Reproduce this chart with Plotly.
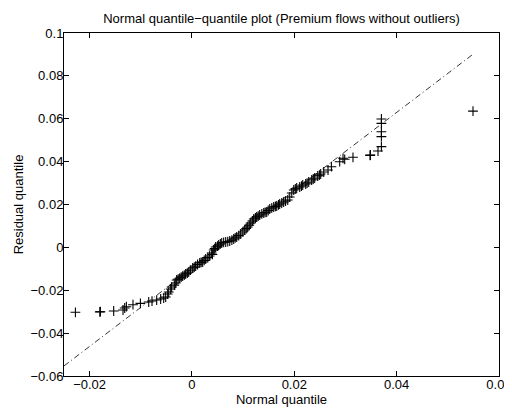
import plotly.graph_objects as go

# Normal quantile (x) vs residual quantile (y)
x_q = [-0.02277, -0.01800, -0.01789, -0.01529, -0.01347, -0.01314, -0.01281, -0.01152, -0.01007,
       -0.00845, -0.00780, -0.00689, -0.00611, -0.00552, -0.00513, -0.00474, -0.00454, -0.00415,
       -0.00396, -0.00345, -0.00317, -0.00298, -0.00270, -0.00239, -0.00210, -0.00181, -0.00150,
       -0.00122, -0.00090, -0.00063, -0.00030, 0.00015, 0.00045, 0.00073, 0.00110, 0.00152,
       0.00180, 0.00210, 0.00240, 0.00269, 0.00310, 0.00347, 0.00386, 0.00400, 0.00425, 0.00445,
       0.00464, 0.00500, 0.00523, 0.00555, 0.00582, 0.00620, 0.00660, 0.00700, 0.00738, 0.00780,
       0.00816, 0.00845, 0.00875, 0.00915, 0.00953, 0.00995, 0.01031, 0.01060, 0.01090, 0.01120,
       0.01149, 0.01180, 0.01207, 0.01240, 0.01266, 0.01295, 0.01324, 0.01365, 0.01403, 0.01430,
       0.01461, 0.01490, 0.01520, 0.01560, 0.01598, 0.01630, 0.01657, 0.01690, 0.01715, 0.01755,
       0.01793, 0.01830, 0.01872, 0.01911, 0.01950, 0.01989, 0.02020, 0.02047, 0.02106, 0.02140,
       0.02165, 0.02223, 0.02250, 0.02282, 0.02340, 0.02370, 0.02399, 0.02458, 0.02490, 0.02516,
       0.02575, 0.02659, 0.02725, 0.02887, 0.02952, 0.02985, 0.03147, 0.03480, 0.03487, 0.03636,
       0.03702, 0.03702, 0.03702, 0.03702, 0.03702, 0.05492]
y_q = [-0.03029, -0.03010, -0.03001, -0.02969, -0.02922, -0.02829, -0.02768, -0.02675, -0.02610,
       -0.02549, -0.02503, -0.02456, -0.02409, -0.02363, -0.02316, -0.02176, -0.02083, -0.01943,
       -0.01850, -0.01760, -0.01663, -0.01523, -0.01480, -0.01430, -0.01390, -0.01337, -0.01290,
       -0.01243, -0.01200, -0.01150, -0.01060, -0.00963, -0.00920, -0.00870, -0.00800, -0.00730,
       -0.00700, -0.00683, -0.00610, -0.00543, -0.00480, -0.00403, -0.00263, -0.00330, -0.00123, -0.00060,
       0.00017, 0.00060, 0.00110, 0.00160, 0.00204, 0.00230, 0.00250, 0.00270, 0.00297, 0.00340,
       0.00390, 0.00440, 0.00484, 0.00550, 0.00624, 0.00720, 0.00810, 0.00880, 0.00950, 0.01040,
       0.01137, 0.01230, 0.01324, 0.01370, 0.01417, 0.01460, 0.01510, 0.01560, 0.01604, 0.01630,
       0.01650, 0.01720, 0.01790, 0.01840, 0.01884, 0.01910, 0.01930, 0.01980, 0.02024, 0.02070,
       0.02117, 0.02160, 0.02210, 0.02350, 0.02537, 0.02677, 0.02730, 0.02770, 0.02817, 0.02860,
       0.02910, 0.02957, 0.03000, 0.03050, 0.03144, 0.03190, 0.03237, 0.03330, 0.03370, 0.03423,
       0.03516, 0.03609, 0.03763, 0.03996, 0.04155, 0.04108, 0.04201, 0.04290, 0.04308, 0.04495,
       0.04699, 0.05166, 0.05396, 0.05784, 0.05988, 0.06356]

# Reference line (through the quartiles), end points
line_x = [-0.025, 0.0547]
line_y = [-0.0553, 0.0897]

x_ticks = [-0.02, 0, 0.02, 0.04, 0.06]
y_ticks = [-0.06, -0.04, -0.02, 0, 0.02, 0.04, 0.06, 0.08, 0.1]

FONT = "Liberation Sans, Arial, Helvetica, sans-serif"
FS = 13

fig = go.Figure()
fig.add_trace(go.Scatter(
    x=x_q, y=y_q, mode="markers",
    marker=dict(symbol="cross-thin", size=7, color="black",
                line=dict(color="black", width=1.1)),
    showlegend=False, hoverinfo="skip"))
fig.add_trace(go.Scatter(
    x=line_x, y=line_y, mode="lines",
    line=dict(color="black", width=0.8, dash="6px,3px,1px,3px"),
    showlegend=False, hoverinfo="skip"))

axis_common = dict(
    showline=True, linecolor="black", linewidth=1, mirror="allticks",
    ticks="inside", ticklen=5, tickcolor="black", tickwidth=1,
    showgrid=False, zeroline=False, automargin=False,
    ticklabeloverflow="allow",
    tickfont=dict(family=FONT, size=FS, color="black"),
)

# The page body has an 8px margin, so the figure is 8px smaller and margins shifted.
fig.update_layout(
    template="none",
    width=504, height=400,
    paper_bgcolor="white", plot_bgcolor="white",
    margin=dict(l=56, r=13, t=25, b=32, pad=0),
    font=dict(family=FONT, size=FS, color="black"),
    title=dict(text="Normal quantile\u2212quantile plot (Premium flows without outliers)",
               x=0.5427, xanchor="center", y=0.975, yanchor="middle",
               font=dict(family=FONT, size=FS, color="black")),
    xaxis=dict(range=[-0.025, 0.06000001], tickvals=x_ticks,
               ticktext=["\u22120.02", "0", "0.02", "0.04", "0.06"],
               ticklabelstandoff=-4,
               title=dict(text="Normal quantile", standoff=0,
                          font=dict(family=FONT, size=FS, color="black")),
               **axis_common),
    yaxis=dict(range=[-0.06000001, 0.10000001], tickvals=y_ticks,
               ticktext=["\u22120.06", "\u22120.04", "\u22120.02", "0", "0.02", "0.04", "0.06", "0.08", "0.1"],
               ticklabelstandoff=-3,
               title=dict(text="Residual quantile", standoff=3,
                          font=dict(family=FONT, size=FS, color="black")),
               **axis_common),
)

fig.write_html("out.html")
